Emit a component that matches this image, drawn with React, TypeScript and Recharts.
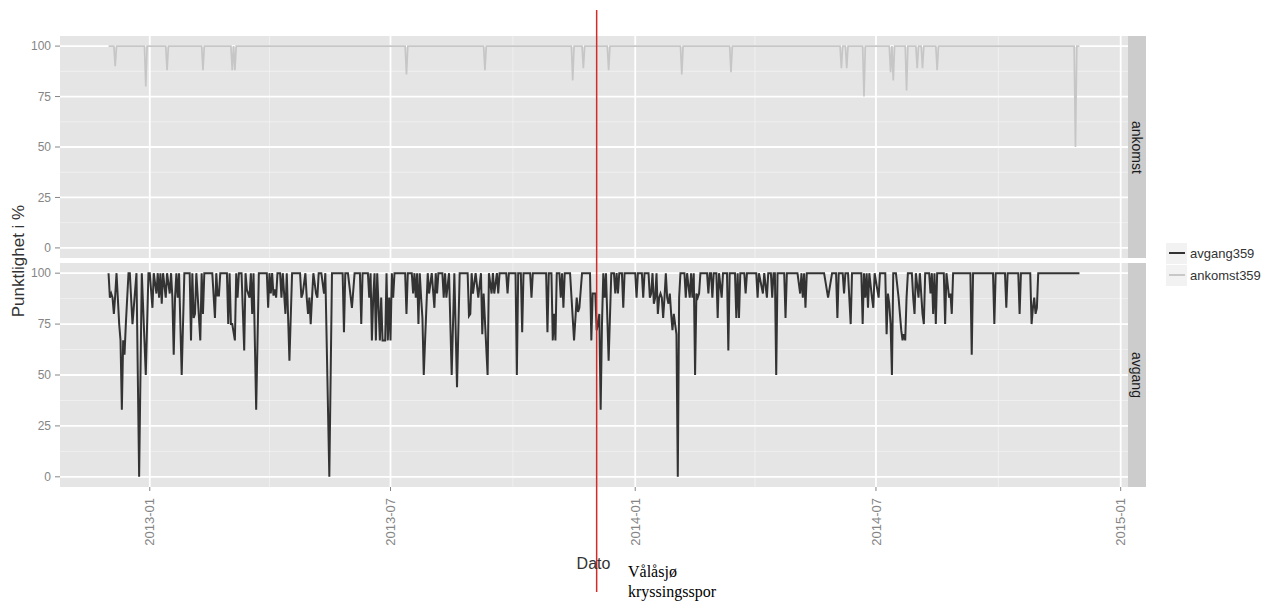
import { CartesianGrid, Line, LineChart, ReferenceLine, XAxis, YAxis } from "recharts";

const startDate = "2012-12-01";
const eventDate = "2013-12-03";
const eventLabel = ["Vålåsjø", "kryssingsspor"];
const xTickLabels = ["2013-01", "2013-07", "2014-01", "2014-07", "2015-01"];
const xMinorLabels = ["2013-04", "2013-10", "2014-04", "2014-10"];
const yTicks = [0, 25, 50, 75, 100];
const yMinor = [12.5, 37.5, 62.5, 87.5];

// [days since startDate, punctuality %] — vertices of the line
const ankomst359: [number, number][] = [
  [0, 100], [4, 100], [5, 90], [6, 100], [27, 100], [28, 80], [29, 100], [43, 100], [44, 88], [45, 100],
  [70, 100], [71, 88], [72, 100], [92, 100], [93, 88], [94, 100], [95, 88], [96, 100], [223, 100], [224, 86],
  [225, 100], [282, 100], [283, 88], [284, 100], [348, 100], [349, 83], [350, 100], [356, 100], [357, 89], [358, 100],
  [375, 100], [376, 88], [377, 100], [430, 100], [431, 86], [432, 100], [467, 100], [468, 87], [469, 100], [550, 100],
  [551, 89], [552, 100], [554, 100], [555, 89], [556, 100], [567, 100], [568, 75], [569, 100], [587, 100], [588, 87],
  [589, 100], [590, 83], [591, 100], [599, 100], [600, 78], [601, 100], [607, 100], [608, 89], [609, 100], [611, 100],
  [612, 89], [613, 100], [622, 100], [623, 88], [624, 100], [726, 100], [727, 50], [728, 100], [730, 100],
];

const avgang359: [number, number][] = [
  [0, 100], [1, 88], [2, 90], [3, 88], [4, 80], [5, 89], [6, 100], [8, 75], [9, 67], [10, 33], [11, 67], [12, 60],
  [13, 75], [15, 100], [16, 100], [18, 75], [21, 100], [23, 0], [25, 100], [28, 50], [30, 100], [31, 100], [33, 83],
  [34, 100], [36, 90], [37, 100], [38, 88], [39, 100], [40, 85], [41, 100], [43, 88], [44, 100], [46, 90], [47, 100],
  [48, 88], [49, 60], [50, 88], [51, 100], [52, 88], [53, 100], [55, 50], [57, 100], [61, 100], [62, 67], [63, 100],
  [64, 78], [65, 80], [66, 100], [69, 67], [70, 100], [71, 80], [72, 100], [78, 100], [80, 78], [81, 100], [82, 89],
  [83, 89], [84, 100], [89, 100], [90, 75], [91, 100], [92, 75], [93, 75], [95, 67], [96, 100], [97, 88], [98, 100],
  [100, 100], [102, 62], [103, 100], [104, 92], [106, 88], [107, 100], [108, 80], [109, 100], [111, 33], [113, 100],
  [119, 100], [120, 83], [121, 100], [122, 90], [123, 100], [124, 89], [125, 92], [126, 88], [127, 100], [129, 100],
  [130, 88], [131, 100], [133, 80], [134, 100], [136, 57], [138, 100], [144, 100], [145, 88], [146, 90], [148, 100],
  [149, 88], [150, 80], [151, 88], [152, 75], [153, 88], [154, 100], [156, 90], [157, 88], [158, 100], [160, 100],
  [162, 90], [163, 100], [166, 0], [168, 100], [176, 100], [177, 71], [178, 100],
  [180, 100], [183, 83], [185, 100], [189, 100], [190, 75], [191, 100], [195, 100], [196, 88], [197, 100], [198, 67],
  [199, 88], [200, 100], [201, 67], [202, 100], [204, 67], [205, 88], [206, 67], [208, 67], [209, 100], [210, 67],
  [211, 88], [212, 67], [213, 100], [214, 88], [215, 100], [223, 100], [224, 80], [225, 100], [228, 100], [229, 90],
  [230, 100], [231, 88], [232, 100], [233, 75], [234, 100], [235, 88], [236, 78], [237, 50], [238, 67], [240, 100],
  [241, 90], [243, 100], [245, 83], [246, 100], [247, 90], [248, 100], [251, 100], [252, 88], [253, 100], [254, 88],
  [256, 100], [258, 50], [260, 100], [262, 44], [264, 100], [270, 100], [271, 79], [272, 80], [273, 100], [274, 90],
  [276, 100], [278, 88], [280, 100], [281, 70], [282, 90], [285, 50], [286, 100], [288, 90], [289, 100], [290, 90],
  [292, 100], [293, 90], [294, 100], [299, 100], [300, 90], [301, 100], [306, 100], [307, 50], [308, 100], [310, 100],
  [311, 71], [312, 100], [317, 100], [318, 88], [319, 100], [329, 100], [330, 71], [331, 100], [333, 100], [334, 67],
  [335, 80], [336, 67], [337, 100], [339, 100], [340, 88], [341, 100], [342, 83], [343, 100], [347, 100], [350, 67],
  [352, 88], [353, 81], [354, 83], [356, 100], [362, 100], [363, 67], [364, 90],
  [366, 90], [367, 72], [368, 75], [369, 80], [370, 33], [371, 75], [372, 100], [373, 88], [374, 100], [376, 57],
  [378, 100], [380, 100], [381, 90], [382, 100], [383, 90], [384, 100], [386, 100], [387, 83], [388, 100], [396, 100],
  [397, 88], [398, 100], [401, 100], [402, 88], [403, 100], [406, 100], [407, 88], [408, 90], [409, 100], [410, 85],
  [411, 88], [412, 100], [413, 80], [414, 88], [415, 90], [416, 88], [417, 78], [418, 88], [419, 100], [420, 88],
  [421, 85], [422, 90], [423, 80], [424, 72], [425, 80], [426, 75], [427, 70], [428, 0], [429, 88], [430, 100],
  [433, 100], [434, 88], [435, 100], [437, 88], [438, 100], [439, 88], [440, 100], [441, 50], [442, 90], [443, 88],
  [444, 90], [445, 100], [450, 100], [451, 90], [452, 100], [453, 100], [454, 88], [455, 100], [457, 100], [458, 78],
  [459, 100], [461, 88], [462, 100], [465, 100], [466, 62], [467, 100], [471, 100], [472, 78], [473, 100], [474, 78],
  [475, 100], [478, 100], [479, 90], [480, 100], [487, 100], [488, 88], [489, 100], [492, 90], [493, 100], [495, 88],
  [496, 100], [498, 100], [499, 88], [500, 100], [501, 100], [502, 50], [503, 100], [508, 100], [509, 78], [510, 100],
  [518, 100], [520, 90], [521, 100], [522, 88], [523, 100], [524, 83], [525, 100], [538, 100], [541, 88], [544, 100],
  [547, 100], [548, 78], [549, 100], [552, 100], [553, 90], [554, 100],
  [556, 100], [558, 75], [559, 100], [566, 100], [567, 75], [568, 100], [569, 88], [570, 100], [571, 83], [572, 100],
  [574, 88], [575, 83], [576, 100], [579, 88], [580, 100], [584, 100], [585, 70], [586, 90], [587, 85], [588, 75],
  [589, 50], [590, 100], [592, 100], [594, 88], [595, 80], [596, 72], [597, 67], [598, 70], [599, 67], [600, 88],
  [601, 100], [604, 100], [605, 88], [606, 80], [607, 100], [609, 88], [610, 100], [612, 80], [613, 75], [614, 100],
  [617, 100], [618, 90], [619, 100], [620, 80], [621, 100], [622, 75], [623, 100], [628, 100], [629, 75], [630, 100],
  [632, 88], [633, 90], [634, 80], [635, 100], [648, 100], [649, 60], [650, 100], [665, 100], [666, 75], [667, 100],
  [674, 100], [675, 83], [676, 100], [684, 100], [685, 80], [686, 100], [693, 100], [694, 75], [695, 83], [696, 88],
  [697, 80], [698, 83], [699, 100], [730, 100],
];

const DAY = 86400000;
const SANS = '"Liberation Sans", Arial, sans-serif';
const AXIS_GREY = "#858585";
const RED = "#D42A2A";

const toTs = (s: string) => {
  const [y, m, d] = s.split("-").map(Number);
  return Date.UTC(y, m - 1, d || 1);
};
const t0 = toTs(startDate);
const toRows = (pts: [number, number][]) => pts.map(([d, v]) => ({ t: t0 + d * DAY, v }));

const allDays = [...ankomst359, ...avgang359].map((p) => p[0]);
const dMin = Math.min(...allDays);
const dMax = Math.max(...allDays);
const pad = (dMax - dMin) * 0.05;
const xDomain = [t0 + (dMin - pad) * DAY, t0 + (dMax + pad) * DAY];
const majorTs = xTickLabels.map(toTs);
const minorTs = xMinorLabels.map(toTs);
const eventTs = toTs(eventDate);

const fmtMonth = (ts: number) => new Date(ts).toISOString().slice(0, 7);

function DateTick({ x, y, payload }: any) {
  return (
    <text
      x={x}
      y={y}
      dy="0.35em"
      transform={`rotate(-90 ${x} ${y})`}
      textAnchor="end"
      fill={AXIS_GREY}
      fontSize={13}
      fontFamily={SANS}
    >
      {fmtMonth(payload.value)}
    </text>
  );
}

function Facet({
  rows,
  color,
  strokeWidth,
  height,
  margin,
  showX,
  redFrom,
  redTo,
}: {
  rows: { t: number; v: number }[];
  color: string;
  strokeWidth: number;
  height: number;
  margin: { top: number; right: number; bottom: number; left: number };
  showX: boolean;
  redFrom: number;
  redTo: number;
}) {
  return (
    <LineChart width={1128} height={height} data={rows} margin={margin}>
      <CartesianGrid
        fill="#E5E5E5"
        stroke="#F2F2F2"
        strokeWidth={0.8}
        horizontalValues={yMinor}
        verticalValues={minorTs}
      />
      <CartesianGrid stroke="#FFFFFF" strokeWidth={1.8} horizontalValues={yTicks} verticalValues={majorTs} />
      <XAxis
        dataKey="t"
        type="number"
        domain={xDomain}
        allowDataOverflow
        ticks={majorTs}
        interval={0}
        hide={!showX}
        height={60}
        axisLine={false}
        tickSize={4}
        tickMargin={7}
        tickLine={{ stroke: AXIS_GREY }}
        tick={<DateTick />}
      />
      <YAxis
        type="number"
        domain={[-5, 105]}
        ticks={yTicks}
        interval={0}
        width={40}
        axisLine={false}
        tickSize={5}
        tickMargin={4}
        tickLine={{ stroke: AXIS_GREY }}
        tick={{ fill: AXIS_GREY, fontSize: 12, fontFamily: SANS }}
      />
      <Line
        dataKey="v"
        type="linear"
        stroke={color}
        strokeWidth={strokeWidth}
        dot={false}
        activeDot={false}
        isAnimationActive={false}
      />
      <ReferenceLine
        x={eventTs}
        stroke={RED}
        strokeWidth={1.5}
        shape={(p: any) => <line x1={p.x1} x2={p.x2} y1={redFrom} y2={redTo} stroke={RED} strokeWidth={1.5} />}
      />
    </LineChart>
  );
}

const strip = (top: number, height: number, label: string) => (
  <div
    style={{
      position: "absolute",
      left: 1128,
      top,
      width: 18,
      height,
      background: "#CCCCCC",
      display: "flex",
      alignItems: "center",
      justifyContent: "center",
    }}
  >
    <span style={{ writingMode: "vertical-rl", fontSize: 14, color: "#1A1A1A", fontFamily: SANS }}>{label}</span>
  </div>
);

const legendItems = [
  { name: "avgang359", color: "#333333" },
  { name: "ankomst359", color: "#C8C8C8" },
];

export default function App() {
  return (
    <div
      style={{
        position: "absolute",
        left: 0,
        top: 0,
        width: 1272,
        height: 604,
        background: "#fff",
        fontFamily: SANS,
        overflow: "hidden",
      }}
    >
      <div style={{ position: "absolute", left: 0, top: 0 }}>
        <Facet
          rows={toRows(ankomst359)}
          color="#C6C6C6"
          strokeWidth={1.7}
          height={259}
          margin={{ top: 36, right: 0, bottom: 1, left: 20 }}
          showX={false}
          redFrom={10}
          redTo={259}
        />
      </div>
      <div style={{ position: "absolute", left: 0, top: 259 }}>
        <Facet
          rows={toRows(avgang359)}
          color="#333333"
          strokeWidth={2}
          height={345}
          margin={{ top: 4, right: 0, bottom: 57, left: 20 }}
          showX
          redFrom={0}
          redTo={333}
        />
      </div>

      {strip(36, 222, "ankomst")}
      {strip(263, 224, "avgang")}

      <div
        style={{
          position: "absolute",
          left: 18.5,
          top: 260.5,
          transform: "translate(-50%, -50%) rotate(-90deg)",
          whiteSpace: "nowrap",
          fontSize: 17,
          color: "#333",
        }}
      >
        Punktlighet i %
      </div>
      <div
        style={{
          position: "absolute",
          left: 593.5,
          top: 555,
          transform: "translateX(-50%)",
          fontSize: 16,
          lineHeight: "18px",
          color: "#333",
        }}
      >
        Dato
      </div>
      <div
        style={{
          position: "absolute",
          left: 628,
          top: 562,
          fontFamily: '"Liberation Serif", "Times New Roman", serif',
          fontSize: 16,
          lineHeight: "20px",
          color: "#000",
        }}
      >
        {eventLabel.map((l) => (
          <div key={l}>{l}</div>
        ))}
      </div>

      <div style={{ position: "absolute", left: 1166, top: 242 }}>
        {legendItems.map((it) => (
          <div key={it.name} style={{ display: "flex", alignItems: "center", height: 22 }}>
            <span
              style={{
                width: 21,
                height: 21,
                background: "#F2F2F2",
                display: "flex",
                alignItems: "center",
                justifyContent: "center",
              }}
            >
              <span style={{ width: 16, height: 2, background: it.color }} />
            </span>
            <span style={{ marginLeft: 3, fontSize: 13, color: "#333" }}>{it.name}</span>
          </div>
        ))}
      </div>
    </div>
  );
}
